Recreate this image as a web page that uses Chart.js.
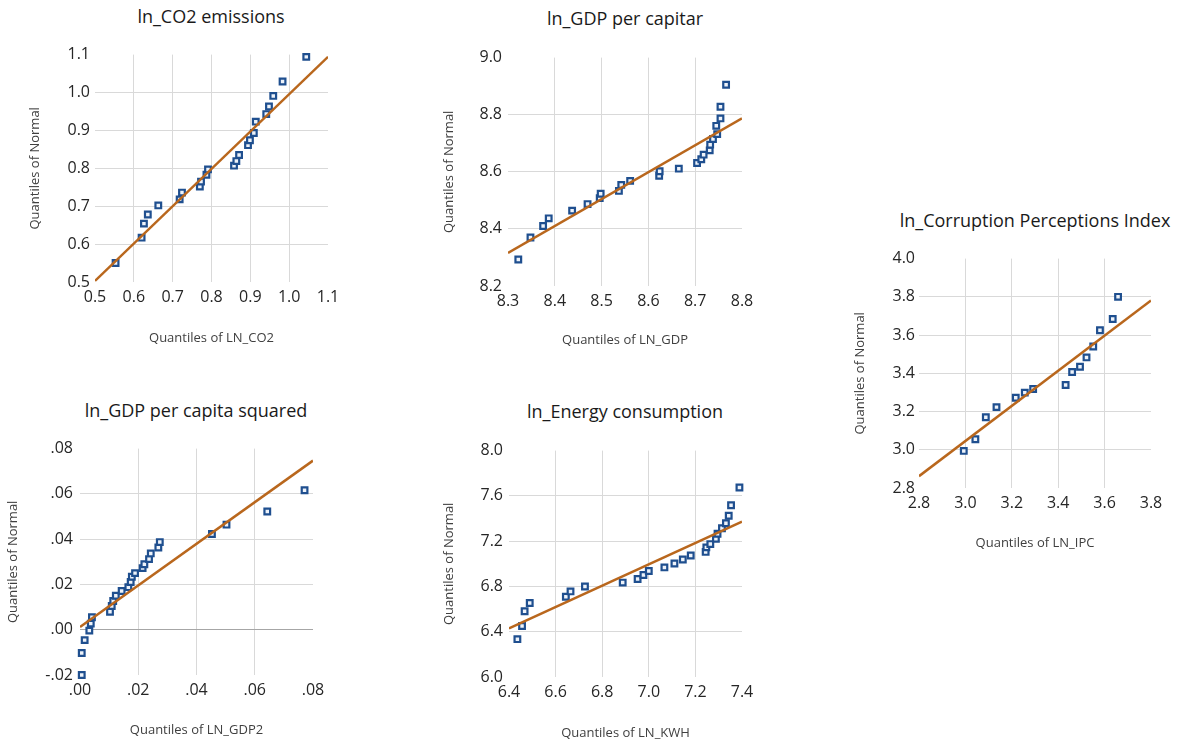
<!DOCTYPE html>
<html>
<head>
<meta charset="utf-8">
<script src="https://cdn.jsdelivr.net/npm/chart.js@4"></script>
<style>
  body { margin: 0; background: #fff; width: 1177px; height: 743px; overflow: hidden; position: relative; font-family: "Open Sans", sans-serif; }
  .box { position: absolute; }
  .ttl { position: absolute; transform: translate(-50%, -50%); white-space: nowrap; font-size: 18px; color: #1a1a1a; }
</style>
</head>
<body>
<div class="ttl" style="left:211px;top:16px">ln_CO2 emissions</div>
<div class="ttl" style="left:625px;top:18px">ln_GDP per capitar</div>
<div class="ttl" style="left:1035px;top:220px">ln_Corruption Perceptions Index</div>
<div class="ttl" style="left:196px;top:410px">ln_GDP per capita squared</div>
<div class="ttl" style="left:625px;top:411px">ln_Energy consumption</div>

<div class="box" style="left:0px;top:40px"><canvas id="qqCO2" width="348" height="312"></canvas></div>
<div class="box" style="left:420px;top:42px"><canvas id="qqGDP" width="342" height="314"></canvas></div>
<div class="box" style="left:830px;top:245px"><canvas id="qqIPC" width="341" height="313"></canvas></div>
<div class="box" style="left:0px;top:432px"><canvas id="qqGDP2" width="333" height="311"></canvas></div>
<div class="box" style="left:420px;top:435px"><canvas id="qqKWH" width="342" height="308"></canvas></div>

<script>
// ln_CO2
const co2X = [0.553, 0.620, 0.626, 0.636, 0.663, 0.718, 0.724, 0.770, 0.773, 0.787, 0.791, 0.858, 0.864, 0.871, 0.894, 0.899, 0.909, 0.914, 0.941, 0.948, 0.959, 0.983, 1.044];
const co2Y = [0.550, 0.617, 0.654, 0.678, 0.702, 0.718, 0.736, 0.752, 0.765, 0.783, 0.797, 0.807, 0.819, 0.835, 0.861, 0.874, 0.893, 0.923, 0.943, 0.963, 0.991, 1.029, 1.094];
const co2LineX = [0.5, 1.1];
const co2LineY = [0.503, 1.094];
const co2Axis = [0.5, 1.1, 0.1];

// ln_GDP
const gdpX = [8.322, 8.348, 8.375, 8.387, 8.437, 8.470, 8.496, 8.498, 8.537, 8.542, 8.561, 8.623, 8.624, 8.665, 8.704, 8.713, 8.718, 8.731, 8.732, 8.738, 8.747, 8.745, 8.754, 8.754, 8.766];
const gdpY = [8.293, 8.370, 8.410, 8.437, 8.464, 8.487, 8.508, 8.523, 8.533, 8.554, 8.568, 8.586, 8.602, 8.611, 8.631, 8.644, 8.660, 8.675, 8.695, 8.715, 8.732, 8.761, 8.787, 8.828, 8.905];
const gdpLineX = [8.3, 8.8];
const gdpLineY = [8.316, 8.787];
const gdpXAxis = [8.3, 8.8, 0.1];
const gdpYAxis = [8.2, 9.0, 0.2];

// ln_IPC
const ipcX = [2.993, 3.043, 3.088, 3.134, 3.217, 3.256, 3.292, 3.432, 3.460, 3.494, 3.522, 3.551, 3.580, 3.635, 3.658];
const ipcY = [2.994, 3.055, 3.170, 3.223, 3.272, 3.299, 3.318, 3.339, 3.407, 3.434, 3.483, 3.540, 3.625, 3.684, 3.800];
const ipcLineX = [2.8, 3.8];
const ipcLineY = [2.862, 3.781];
const ipcXAxis = [2.8, 3.8, 0.2];
const ipcYAxis = [2.8, 4.0, 0.2];

// ln_GDP2
const gdp2X = [0.0006, 0.0006, 0.0016, 0.0032, 0.0037, 0.0041, 0.0103, 0.0109, 0.0114, 0.0123, 0.0143, 0.0166, 0.0174, 0.0178, 0.0189, 0.0215, 0.0221, 0.0237, 0.0243, 0.0269, 0.0274, 0.0453, 0.0503, 0.0643, 0.0771];
const gdp2Y = [-0.0200, -0.0103, -0.0046, -0.0004, 0.0027, 0.0055, 0.0079, 0.0105, 0.0127, 0.0150, 0.0171, 0.0188, 0.0211, 0.0234, 0.0250, 0.0272, 0.0289, 0.0312, 0.0337, 0.0363, 0.0387, 0.0423, 0.0464, 0.0522, 0.0616];
const gdp2LineX = [0.0, 0.08];
const gdp2LineY = [0.0012, 0.0747];
const gdp2XAxis = [0.0, 0.08, 0.02];
const gdp2YAxis = [-0.02, 0.08, 0.02];

// ln_KWH
const kwhX = [6.436, 6.456, 6.467, 6.489, 6.644, 6.664, 6.726, 6.888, 6.952, 6.977, 7.000, 7.067, 7.110, 7.146, 7.180, 7.244, 7.247, 7.264, 7.288, 7.295, 7.314, 7.331, 7.343, 7.353, 7.389];
const kwhY = [6.334, 6.451, 6.581, 6.654, 6.709, 6.756, 6.799, 6.834, 6.866, 6.901, 6.936, 6.968, 7.003, 7.038, 7.073, 7.105, 7.145, 7.174, 7.221, 7.265, 7.314, 7.358, 7.424, 7.517, 7.674];
const kwhLineX = [6.4, 7.4];
const kwhLineY = [6.430, 7.372];
const kwhXAxis = [6.4, 7.4, 0.2];
const kwhYAxis = [6.0, 8.0, 0.4];

function toPoints(xs, ys) {
  return xs.map((x, i) => ({ x: x, y: ys[i] }));
}

function fmtOne(v) { return v.toFixed(1); }
function fmtDot(v) {
  let s = v.toFixed(2);
  return s.replace("0.", ".");
}

function createQQ(canvasId, xs, ys, lineXs, lineYs, xAxis, yAxis, xTitle, box, fmt) {
  const ctx = document.getElementById(canvasId);
  const gridColor = (c) => {
    const n = c.scale.ticks.length;
    if (c.index === 0 || c.index === n - 1) return "rgba(0,0,0,0)";
    if (box.zeroLine && c.tick && Math.abs(c.tick.value) < 1e-9) return "#a6a6a6";
    return "#d9d9d9";
  };
  new Chart(ctx, {
    type: "scatter",
    data: {
      datasets: [
        {
          label: "fit",
          data: toPoints(lineXs, lineYs),
          showLine: true,
          borderColor: "#b9671d",
          borderWidth: 2.5,
          pointRadius: 0,
          fill: false,
        },
        {
          label: "quantiles",
          data: toPoints(xs, ys),
          clip: false,
          pointStyle: "rect",
          pointRadius: 4,
          borderWidth: 2.2,
          borderColor: "#1f4f8f",
          backgroundColor: "#eef3fa",
        },
      ],
    },
    options: {
      responsive: false,
      animation: false,
      layout: { padding: { top: 12, right: 20, left: 0, bottom: 0 } },
      plugins: { legend: { display: false }, tooltip: { enabled: false } },
      scales: {
        x: {
          type: "linear",
          min: xAxis[0],
          max: xAxis[1],
          border: { display: false },
          grid: { color: gridColor, drawTicks: false, lineWidth: 1 },
          ticks: {
            stepSize: xAxis[2],
            padding: 6,
            color: "#262626",
            font: { family: "Open Sans", size: 16 },
            callback: (v) => fmt(v),
            maxRotation: 0,
          },
          title: {
            display: true,
            text: xTitle,
            color: "#404040",
            font: { family: "Open Sans", size: 13 },
            padding: { top: 0, bottom: box.xPad },
          },
          afterFit: (scale) => { scale.height = box.xH; },
        },
        y: {
          type: "linear",
          min: yAxis[0],
          max: yAxis[1],
          border: { display: false },
          grid: { color: gridColor, drawTicks: false, lineWidth: 1 },
          ticks: {
            stepSize: yAxis[2],
            padding: box.yTickPad,
            color: "#262626",
            font: { family: "Open Sans", size: 16 },
            callback: (v) => fmt(v),
          },
          title: {
            display: true,
            text: "Quantiles of Normal",
            color: "#404040",
            font: { family: "Open Sans", size: 13 },
            padding: { top: box.yPad, bottom: 0 },
          },
          afterFit: (scale) => { scale.width = box.yW; },
        },
      },
    },
  });
}

createQQ("qqCO2", co2X, co2Y, co2LineX, co2LineY, co2Axis, co2Axis, "Quantiles of LN_CO2",
  { yW: 95, xH: 70, yPad: 27.2, xPad: 6.2, yTickPad: 5 }, fmtOne);
createQQ("qqGDP", gdpX, gdpY, gdpLineX, gdpLineY, gdpXAxis, gdpYAxis, "Quantiles of LN_GDP",
  { yW: 88, xH: 70, yPad: 21.2, xPad: 8.2, yTickPad: 6 }, fmtOne);
createQQ("qqIPC", ipcX, ipcY, ipcLineX, ipcLineY, ipcXAxis, ipcYAxis, "Quantiles of LN_IPC",
  { yW: 89, xH: 70, yPad: 22.2, xPad: 7.2, yTickPad: 4 }, fmtOne);
createQQ("qqGDP2", gdp2X, gdp2Y, gdp2LineX, gdp2LineY, gdp2XAxis, gdp2YAxis, "Quantiles of LN_GDP2",
  { yW: 80, xH: 68, yPad: 5.2, xPad: 5.2, yTickPad: 7, zeroLine: true }, fmtDot);
createQQ("qqKWH", kwhX, kwhY, kwhLineX, kwhLineY, kwhXAxis, kwhYAxis, "Quantiles of LN_KWH",
  { yW: 89, xH: 66, yPad: 21.2, xPad: 2.2, yTickPad: 6 }, fmtOne);
</script>
</body>
</html>
